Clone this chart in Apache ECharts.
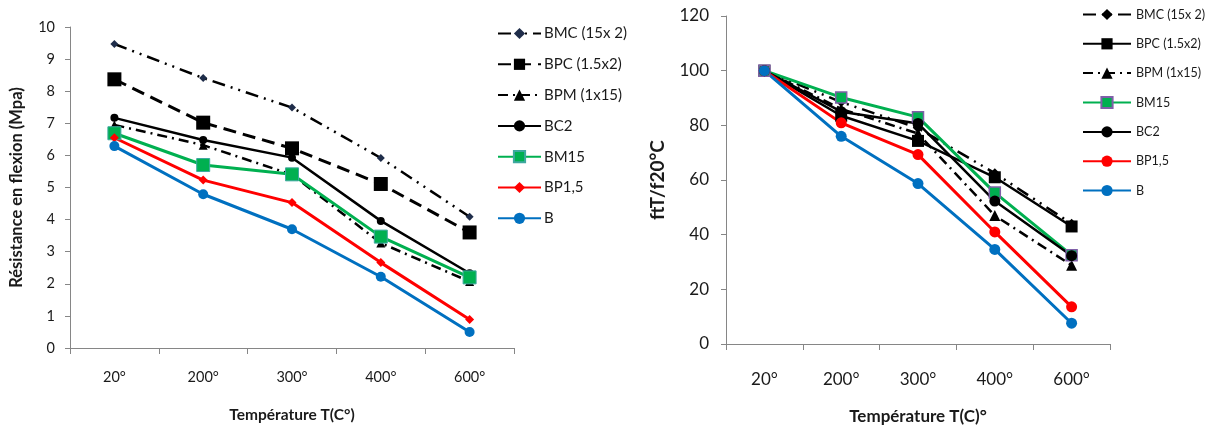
<!DOCTYPE html>
<html>
<head>
<meta charset="utf-8">
<script src="https://cdn.jsdelivr.net/npm/echarts@6/dist/echarts.min.js"></script>
<style>
html,body{margin:0;padding:0;background:#fff;}
#c{width:1215px;height:433px;}
</style>
</head>
<body>
<div id="c"></div>
<script>
const categories = ['20°', '200°', '300°', '400°', '600°'];
const names = ['BMC (15x 2)', 'BPC (1.5x2)', 'BPM (1x15)', 'BC2', 'BM15', 'BP1,5', 'B'];

// Left chart: Résistance en flexion (Mpa)
const leftBMC  = [9.47, 8.41, 7.49, 5.92, 4.09];
const leftBPC  = [8.37, 7.02, 6.22, 5.11, 3.60];
const leftBPM  = [6.95, 6.32, 5.40, 3.27, 2.07];
const leftBC2  = [7.17, 6.48, 5.93, 3.96, 2.33];
const leftBM15 = [6.69, 5.70, 5.41, 3.47, 2.20];
const leftBP15 = [6.55, 5.23, 4.53, 2.66, 0.89];
const leftB    = [6.29, 4.79, 3.70, 2.22, 0.50];

// Right chart: ftT/f20°C
const rightBMC  = [100, 88.5, 79, 62.5, 44];
const rightBPC  = [100, 83.5, 74.3, 61, 43];
const rightBPM  = [100, 86, 77, 47, 28.8];
const rightBM15 = [100, 90.2, 83, 55.4, 32.5];
const rightBC2  = [100, 85, 80.7, 52.3, 32.3];
const rightBP15 = [100, 80.9, 69.3, 41, 13.6];
const rightB    = [100, 76, 58.7, 34.6, 7.6];

const FONT = 'Lato';
const AX = '#868686';
const TXT = '#1a1a1a';
const R = 'R|'; // internal prefix so the right legend uses the right chart's own series styles

function line(name, data, idx, color, width, dash, symbol, size, itemStyle) {
  return {
    name: name, type: 'line', data: data,
    xAxisIndex: idx, yAxisIndex: idx,
    symbol: symbol, symbolSize: size,
    lineStyle: {color: color, width: width, type: dash},
    itemStyle: Object.assign({color: color}, itemStyle || {}),
    emphasis: {disabled: true},
    animation: false
  };
}

const series = [
  line(names[0], leftBMC, 0, '#000', 2.5, [13, 6, 2, 6, 2, 6], 'diamond', 8, {color: '#1f2d4a'}),
  line(names[1], leftBPC, 0, '#000', 3, [13, 7], 'rect', 14),
  line(names[2], leftBPM, 0, '#000', 2.5, [10, 5, 2, 5], 'triangle', 9),
  line(names[3], leftBC2, 0, '#000', 2.5, 'solid', 'circle', 8),
  line(names[4], leftBM15, 0, '#00b050', 3, 'solid', 'rect', 13, {borderColor: '#3fa8a0', borderWidth: 1}),
  line(names[5], leftBP15, 0, '#ff0000', 3, 'solid', 'diamond', 9),
  line(names[6], leftB, 0, '#0070c0', 3, 'solid', 'circle', 10),

  line(R + names[0], rightBMC, 1, '#000', 2.5, [13, 6, 2, 6, 2, 6], 'diamond', 10),
  line(R + names[1], rightBPC, 1, '#000', 2.5, 'solid', 'rect', 12),
  line(R + names[2], rightBPM, 1, '#000', 2.5, [10, 5, 2, 5], 'triangle', 11),
  line(R + names[4], rightBM15, 1, '#00b050', 3, 'solid', 'rect', 11, {borderColor: '#7f5fa8', borderWidth: 1.5}),
  line(R + names[3], rightBC2, 1, '#000', 2.5, 'solid', 'circle', 11),
  line(R + names[5], rightBP15, 1, '#ff0000', 3, 'solid', 'circle', 11),
  line(R + names[6], rightB, 1, '#0070c0', 3, 'solid', 'circle', 11)
];

function xAxis(idx, margin, nameGap, labelSize, nameSize) {
  return {
    type: 'category', gridIndex: idx, data: categories, boundaryGap: true,
    name: idx === 0 ? 'Température T(C°)' : 'Température T(C)°',
    nameLocation: 'middle', nameGap: nameGap,
    nameTextStyle: {fontFamily: FONT, fontWeight: 'bold', fontSize: nameSize, color: TXT},
    axisLine: {lineStyle: {color: AX, width: 1}},
    axisTick: {show: true, length: 6, alignWithLabel: false, lineStyle: {color: AX}},
    axisLabel: {fontFamily: FONT, fontSize: labelSize, color: TXT, margin: margin},
    splitLine: {show: false}
  };
}
function yAxis(idx, max, interval, name, nameGap, margin, nameSize, labelSize) {
  return {
    type: 'value', gridIndex: idx, min: 0, max: max, interval: interval,
    name: name, nameLocation: 'middle', nameGap: nameGap,
    nameTextStyle: {fontFamily: FONT, fontWeight: 'bold', fontSize: nameSize, color: TXT},
    axisLine: {show: true, lineStyle: {color: AX, width: 1}},
    axisTick: {show: true, length: 5, lineStyle: {color: AX}},
    axisLabel: {fontFamily: FONT, fontSize: labelSize, color: TXT, margin: margin},
    splitLine: {show: false}
  };
}

const leftLegendData = names.slice();
const rightLegendData = [names[0], names[1], names[2], names[4], names[3], names[5], names[6]].map(n => R + n);
const stripPrefix = n => n.indexOf(R) === 0 ? n.slice(R.length) : n;

const option = {
  backgroundColor: '#fff',
  animation: false,
  grid: [
    {left: 70, top: 27, width: 444, height: 321, containLabel: false},
    {left: 726, top: 16, width: 384, height: 328, containLabel: false}
  ],
  xAxis: [xAxis(0, 22, 59, 14.5, 15.5), xAxis(1, 27, 64, 17, 17)],
  yAxis: [
    yAxis(0, 10, 1, 'Résistance en flexion (Mpa)', 45, 15, 16.5, 14.5),
    yAxis(1, 120, 20, 'ftT/f20°C', 59, 17, 19, 17)
  ],
  legend: [
    {
      orient: 'vertical', left: 497, top: 26, padding: 0, itemWidth: 43, itemHeight: 14, itemGap: 15.8,
      data: leftLegendData, formatter: stripPrefix,
      textStyle: {fontFamily: FONT, fontSize: 15, color: TXT, padding: [0, 0, 0, -2]},
      selectedMode: false
    },
    {
      orient: 'vertical', left: 1082, top: 8, padding: 0, itemWidth: 48, itemHeight: 14, itemGap: 16.3,
      data: rightLegendData, formatter: stripPrefix,
      textStyle: {fontFamily: FONT, fontSize: 12.5, color: TXT, padding: [0, 0, 0, 0]},
      selectedMode: false
    }
  ],
  series: series
};

const chart = echarts.init(document.getElementById('c'), null, {renderer: 'canvas'});
chart.setOption(option);
</script>
</body>
</html>
